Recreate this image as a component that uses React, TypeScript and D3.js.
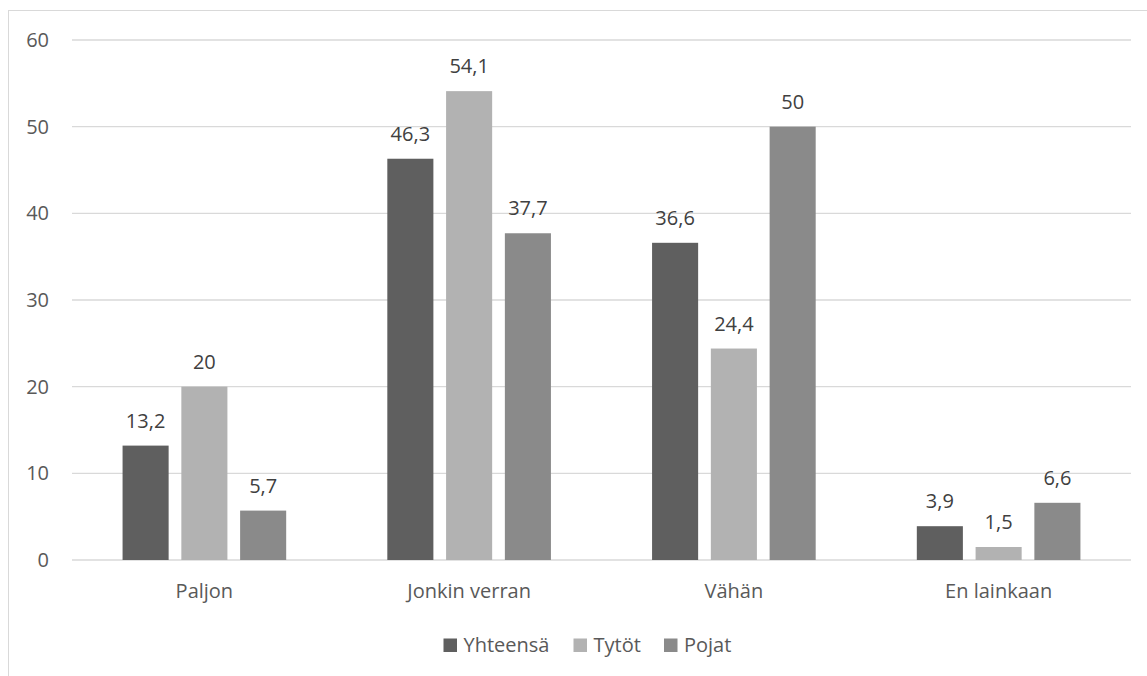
import React from "react";
import * as d3 from "d3";

const categories = ["Paljon", "Jonkin verran", "Vähän", "En lainkaan"];
const seriesNames = ["Yhteensä", "Tytöt", "Pojat"];
const yhteensa = [13.2, 46.3, 36.6, 3.9];
const tytot = [20, 54.1, 24.4, 1.5];
const pojat = [5.7, 37.7, 50, 6.6];
const yTicks = [0, 10, 20, 30, 40, 50, 60];
const colors = ["#5f5f5f", "#b2b2b2", "#8a8a8a"];

const W = 1147;
const H = 676;
const FONT = "'Open Sans', sans-serif";
const TEXT = "#595959";
const FS = 20;

export default function App() {
  const series = [yhteensa, tytot, pojat];
  const left = 72, right = 1131, top = 40, bottom = 560;
  const x0 = d3.scaleBand<string>().domain(categories).range([left, right]).paddingInner(0).paddingOuter(0);
  const y = d3.scaleLinear().domain([0, 60]).range([bottom, top]);
  const bw = x0.bandwidth();
  const barW = bw * 0.174;
  const gap = bw * 0.048;
  const groupW = barW * 3 + gap * 2;
  const fmt = (v: number) => String(v).replace(".", ",");

  const legendX = [443.5, 573.5, 664];

  return (
    <svg width={W} height={H} style={{ position: "absolute", left: 0, top: 0, display: "block" }}>
      <rect x={0} y={0} width={W} height={H} fill="#fff" />
      <rect x={8.5} y={10.5} width={W + 10} height={H + 10} fill="none" stroke="#d9d9d9" strokeWidth={1} />
      {yTicks.map((t) => (
        <g key={t}>
          <line x1={left} x2={right} y1={y(t)} y2={y(t)} stroke="#d9d9d9" strokeWidth={1.3} />
          <text x={49} y={y(t) + 7} textAnchor="end" fontFamily={FONT} fontSize={FS} fill={TEXT}>
            {t}
          </text>
        </g>
      ))}
      {categories.map((c, i) => {
        const cx = (x0(c) as number) + bw / 2;
        const start = cx - groupW / 2;
        return (
          <g key={c}>
            {series.map((s, j) => {
              const bx = start + j * (barW + gap);
              const v = s[i];
              return (
                <g key={j}>
                  <rect x={bx} y={y(v)} width={barW} height={y(0) - y(v)} fill={colors[j]} />
                  <text x={bx + barW / 2} y={y(v) - 18} textAnchor="middle" fontFamily={FONT} fontSize={FS} fill="#404040">
                    {fmt(v)}
                  </text>
                </g>
              );
            })}
            <text x={cx} y={598} textAnchor="middle" fontFamily={FONT} fontSize={FS} fill={TEXT}>
              {c}
            </text>
          </g>
        );
      })}
      {seriesNames.map((n, j) => (
        <g key={n}>
          <rect x={legendX[j]} y={638.5} width={13.5} height={13.5} fill={colors[j]} />
          <text x={legendX[j] + 20} y={652} fontFamily={FONT} fontSize={FS} fill={TEXT}>
            {n}
          </text>
        </g>
      ))}
    </svg>
  );
}
